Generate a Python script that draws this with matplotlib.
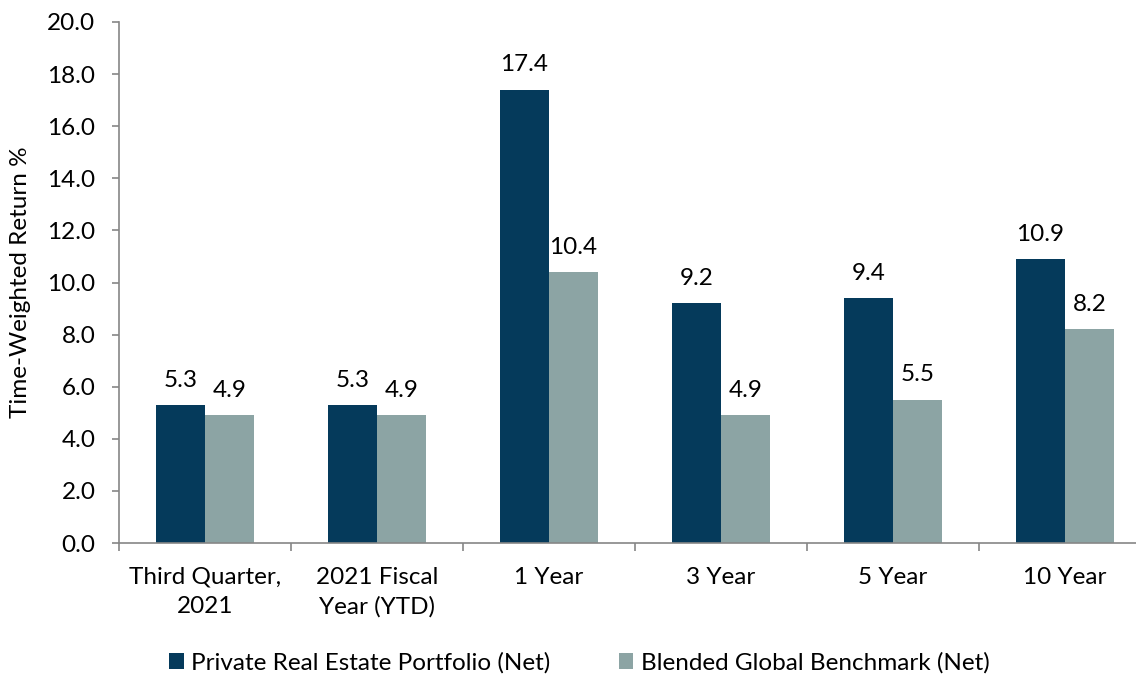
import numpy as np
import matplotlib
matplotlib.use("Agg")
import matplotlib.pyplot as plt

plt.rcParams['font.family'] = ['Lato', 'DejaVu Sans']

categories = ["Third Quarter,\n2021", "2021 Fiscal\nYear (YTD)", "1 Year", "3 Year", "5 Year", "10 Year"]
portfolio = [5.3, 5.3, 17.4, 9.2, 9.4, 10.9]
benchmark = [4.9, 4.9, 10.4, 4.9, 5.5, 8.2]
series_names = ["Private Real Estate Portfolio (Net)", "Blended Global Benchmark (Net)"]
colors = ["#053A5B", "#8CA4A4"]
fs = 17.5

fig = plt.figure(figsize=(11.36, 6.77), dpi=100)
# the plot area runs past the right edge, like the source
ax = fig.add_axes([119/1136, 1 - 543/677, (1151 - 119)/1136, (543 - 22)/677])

x = np.arange(len(categories))
w = 0.285
b1 = ax.bar(x - w/2, portfolio, w, color=colors[0], label=series_names[0])
b2 = ax.bar(x + w/2, benchmark, w, color=colors[1], label=series_names[1])

for bars, vals in [(b1, portfolio), (b2, benchmark)]:
    for r, v in zip(bars, vals):
        ax.text(r.get_x() + r.get_width()/2, v + 0.55, "%.1f" % v,
                ha='center', va='bottom', fontsize=fs)

ax.set_xlim(-0.5, len(categories) - 0.5)
ax.set_ylim(0, 20)
ax.set_yticks(np.arange(0, 20.1, 2))
ax.set_yticklabels(["%.1f" % t for t in np.arange(0, 20.1, 2)], fontsize=fs)
ax.set_xticks(x)
ax.set_xticklabels(categories, fontsize=fs)
for t in ax.get_xticklabels():
    t.set_linespacing(1.5)
ax.set_xticks(np.arange(-0.5, len(categories), 1), minor=True)
ax.tick_params(axis='x', which='major', length=0, pad=17)
ax.tick_params(axis='x', which='minor', length=6, color='#868686', width=1.2)
ax.tick_params(axis='y', length=5, color='#868686', width=1.2, pad=12)

for s in ['top', 'right']:
    ax.spines[s].set_visible(False)
for s in ['left', 'bottom']:
    ax.spines[s].set_color('#868686')
    ax.spines[s].set_linewidth(1.2)

ax.set_ylabel("Time-Weighted Return %", fontsize=fs)
ax.yaxis.set_label_coords(-0.085, 0.5)

fig.legend(handles=[b1, b2], loc='center', bbox_to_anchor=(0.51, 1 - 663/677),
           ncol=2, frameon=False, fontsize=fs, handlelength=0.6, handleheight=0.6,
           columnspacing=2.8, handletextpad=0.3)

fig.savefig("out.png", dpi=100)
